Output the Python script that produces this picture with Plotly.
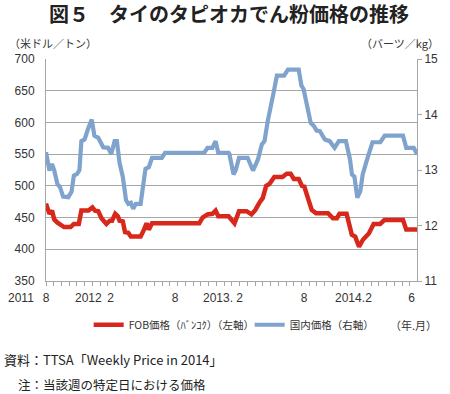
import plotly.graph_objects as go

# ---- data (x = months since Aug 2011) ----
fob_month = [0, 0.32, 0.56, 0.77, 1.07, 1.53, 1.68, 2.29, 2.59, 3.05, 3.29, 3.95, 4.32, 4.56, 4.86,
             5.16, 5.62, 5.93, 6.14, 6.44, 6.68, 6.84, 7.14, 7.35, 7.65, 7.89, 8.80, 9.11, 9.35,
             9.56, 9.86, 14.25, 14.56, 15.02, 15.47, 15.77, 16.02, 16.98, 17.53, 17.95, 18.65,
             19.11, 19.47, 19.86, 20.16, 20.47, 20.77, 21.23, 21.98, 22.38, 22.75, 23.05, 23.50,
             23.80, 24.02, 24.41, 24.71, 25.11, 26.23, 26.68, 27.05, 27.29, 27.95, 28.44, 28.75,
             29.11, 29.47, 30.02, 30.47, 31.07, 31.47, 33.20, 33.50, 34.50]
fob_price = [472, 456, 461, 447, 442, 437, 435, 435, 440, 440, 461, 461, 466, 461, 460,
             449, 440, 445, 445, 456, 452, 445, 444, 427, 426, 420, 420, 431, 441,
             431, 441, 441, 450, 455, 456, 461, 452, 452, 441, 460, 460,
             455, 462, 474, 481, 500, 503, 514, 514, 519, 519, 511, 511,
             500, 499, 478, 462, 457, 457, 449, 449, 456, 456, 423, 420,
             404, 415, 425, 440, 440, 446, 446, 431, 431]

dom_month = [0, 0.32, 0.56, 0.77, 1.07, 1.29, 1.59, 2.07, 2.38, 2.59, 2.89, 3.11, 3.29, 3.59,
             3.89, 4.25, 4.50, 4.86, 5.32, 5.77, 6.07, 6.38, 6.59, 6.84, 7.14, 7.44, 7.65, 7.89,
             8.11, 8.35, 8.80, 9.05, 9.25, 9.56, 9.86, 10.77, 11.07, 14.71, 15.02, 15.47, 15.77,
             16.02, 16.98, 17.05, 17.44, 17.65, 17.95, 18.75, 19.25, 19.71, 20.07, 20.32, 20.62,
             21.16, 21.47, 22.14, 22.50, 23.50, 23.75, 23.95, 24.20, 24.62, 24.93, 25.16, 25.47,
             25.93, 26.38, 26.84, 27.23, 27.89, 28.27, 28.45, 28.68, 28.95, 29.23, 29.45, 29.86,
             30.36, 31.09, 31.50, 33.20, 33.50, 34.20, 34.50]
dom_price = [13.32, 12.99, 13.11, 12.99, 12.74, 12.70, 12.52, 12.51, 12.61, 12.90, 12.93, 13.00, 13.52, 13.55,
             13.73, 13.91, 13.62, 13.58, 13.41, 13.40, 13.29, 13.52, 13.52, 13.13, 12.88, 12.46, 12.39, 12.41,
             12.30, 12.39, 12.39, 12.79, 13.02, 13.05, 13.22, 13.22, 13.31, 13.31, 13.40, 13.40, 13.52,
             13.31, 13.31, 13.29, 12.92, 13.00, 13.22, 13.22, 12.99, 13.19, 13.46, 13.52, 13.88,
             14.39, 14.70, 14.70, 14.81, 14.81, 14.52, 14.46, 14.21, 13.85, 13.79, 13.71, 13.70,
             13.55, 13.52, 13.40, 13.52, 13.52, 13.19, 12.92, 12.88, 12.50, 12.62, 12.92, 13.19,
             13.50, 13.50, 13.62, 13.62, 13.40, 13.40, 13.29]

month_ticks = [0, 6, 12, 18, 24, 30, 34]
month_labels = ["8", "2", "8", "2", "8", "2", "6"]
year_labels = [(0, "2011", -10), (6, "2012", -7), (18, "2013.", -5), (30, "2014.", -2)]

series_names = ["FOB価格（ﾊﾞﾝｺｸ）（左軸）", "国内価格（右軸）"]

JP = "Noto Sans CJK JP, sans-serif"
NUM = "Liberation Sans Narrow, Arial Narrow, Liberation Sans, Arial, sans-serif"
GRID = "#a6a6a6"
RED = "#d8281c"
BLUE = "#7fa3cd"

fig = go.Figure()
fig.add_trace(go.Scatter(x=fob_month, y=fob_price, mode="lines", name=series_names[0],
                         line=dict(color=RED, width=4.5), yaxis="y"))
fig.add_trace(go.Scatter(x=dom_month, y=dom_price, mode="lines", name=series_names[1],
                         line=dict(color=BLUE, width=4.2), yaxis="y2"))

annotations = [
    dict(text="<b>図５　タイのタピオカでん粉価格の推移</b>", xref="paper", yref="paper", x=0.492, y=1.205,
         xanchor="center", yanchor="middle", showarrow=False, font=dict(family=JP, size=20, color="#222")),
    dict(text="（米ドル／トン）", xref="paper", yref="paper", x=-0.105, y=1.073, xanchor="left",
         yanchor="middle", showarrow=False, font=dict(family=JP, size=11, color="#333")),
    dict(text="（バーツ／kg）", xref="paper", yref="paper", x=1.065, y=1.073, xanchor="right",
         yanchor="middle", showarrow=False, font=dict(family=JP, size=11, color="#333")),
    dict(text="（年.月）", xref="paper", yref="paper", x=1.058, y=-0.197, xanchor="right",
         yanchor="middle", showarrow=False, font=dict(family=JP, size=11, color="#333")),
    dict(text="資料：TTSA「Weekly Price in 2014」", xref="paper", yref="paper", x=-0.118, y=-0.355,
         xanchor="left", yanchor="middle", showarrow=False, font=dict(family=JP, size=13, color="#222")),
    dict(text="注：当該週の特定日における価格", xref="paper", yref="paper", x=-0.08, y=-0.468,
         xanchor="left", yanchor="middle", showarrow=False, font=dict(family=JP, size=12.5, color="#222")),
]
for xv, txt, sh in year_labels:
    annotations.append(dict(text=txt, xref="x", yref="paper", x=xv, y=-0.078, xshift=sh,
                            xanchor="right", yanchor="middle", showarrow=False,
                            font=dict(family=NUM, size=12, color="#333")))

fig.update_layout(
    width=450, height=394,
    margin=dict(l=46, r=24, t=59, b=113),
    paper_bgcolor="white", plot_bgcolor="white",
    showlegend=True,
    legend=dict(orientation="h", x=0.115, y=-0.197, xanchor="left", yanchor="middle",
                font=dict(family=JP, size=10.5, color="#333"), bgcolor="rgba(0,0,0,0)",
                itemwidth=30, tracegroupgap=0, entrywidth=116, entrywidthmode="pixels"),
    xaxis=dict(range=[0, 34.5], tickmode="array", tickvals=month_ticks, ticktext=month_labels,
               ticks="", showgrid=False, zeroline=False, showline=True, linecolor=GRID, linewidth=1,
               ticklabelstandoff=6,
               tickfont=dict(family=NUM, size=12, color="#333"),
               minor=dict(ticks="outside", ticklen=4, tickcolor=GRID, tickmode="linear",
                          tick0=0, dtick=0.72, showgrid=False)),
    yaxis=dict(range=[350, 700], dtick=50, tick0=350, gridcolor=GRID, gridwidth=1,
               showline=True, linecolor=GRID, zeroline=False, ticks="",
               ticklabelstandoff=8, tickfont=dict(family=NUM, size=12, color="#333")),
    yaxis2=dict(range=[11, 15], dtick=1, overlaying="y", side="right", showgrid=False,
                showline=True, linecolor=GRID, zeroline=False, ticks="outside", ticklen=4,
                tickcolor=GRID, tickfont=dict(family=NUM, size=12, color="#333")),
    annotations=annotations,
)

fig.write_html("out.html", config={"displayModeBar": False},
               post_script="document.body.style.margin='0';")
